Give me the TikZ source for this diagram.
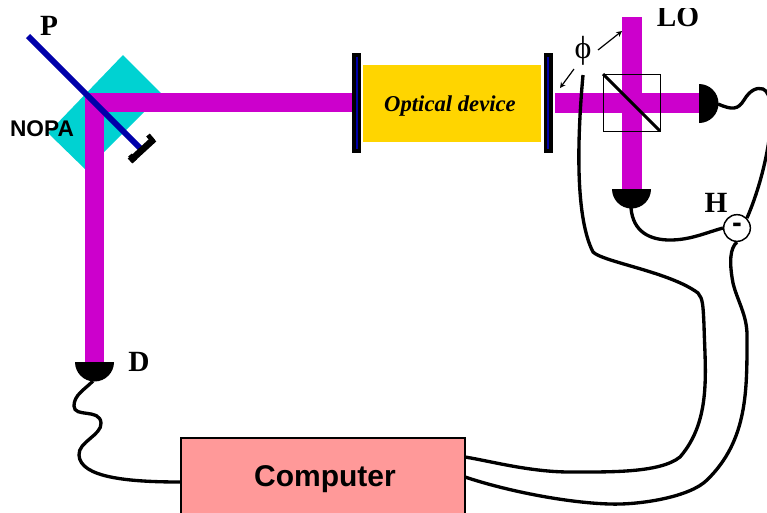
\documentclass[tikz,border=0pt]{standalone}
\usepackage{fontspec}
\setmainfont{Liberation Serif}
\setsansfont{Liberation Sans}
\usepackage{xcolor}
\usetikzlibrary{arrows}
\definecolor{faisceau}{RGB}{204,0,204}
\definecolor{turquoise}{RGB}{0,210,210}
\definecolor{jaune}{RGB}{255,213,0}
\definecolor{rose}{RGB}{255,153,153}
\definecolor{bleunuit}{RGB}{0,0,170}
\tikzset{
    beam/.style={fill=faisceau},
    wire/.style={line width=2.5pt, black},
    label/.style={font=\fontsize{22}{22}\selectfont\bfseries, inner sep=0pt},
    detector/.style={fill=black},
}

\begin{document}
\begin{tikzpicture}[x=0.75pt,y=-0.75pt]
    \clip (0,0) rectangle (767,512);
    \fill[white] (0,0) rectangle (767,512);
    % cristal
    \fill[turquoise] (123,55) -- (162,94) -- (86,170) -- (48,133) -- cycle;
    % faisceaux
    \fill[beam] (85,93) rectangle (353,112);
    \fill[beam] (85,93) rectangle (104,362);
    \fill[beam] (555,93) rectangle (700,113);
    \fill[beam] (622,17) rectangle (642,190);
    % lame et miroir
    \draw[bleunuit, line width=4.5pt] (28,36) -- (140,148);
    \draw[black, line width=5pt] (130,161) -- (154,139);
    \draw[black, line width=3.5pt] (148,135) -- (153,141);
    \draw[black, line width=3.5pt] (130,155) -- (135,161);
    % miroirs de la cavite
    \foreach \x in {356.5,548} {
        \fill[black] (\x-4.5,53) rectangle (\x+4.5,153);
        \fill[bleunuit] (\x-1,57) rectangle (\x+1,149);
    }
    \node[fill=jaune, minimum width=133.5pt, minimum height=57.75pt, inner sep=0pt, text depth=0pt,
        font=\fontsize{17}{17}\selectfont\bfseries\itshape] (device) at (452,103.5) {\hspace*{-3pt}Optical device};
    % separatrice
    \draw[black, line width=0.5pt] (603,74) rectangle (660,131);
    \draw[black, line width=2.2pt] (603,74) -- (660,131);
    % detecteurs
    \fill[detector] (75,362) arc (180:0:19.5) -- cycle;
    \fill[detector] (612,189) arc (180:0:19.5) -- cycle;
    \fill[detector] (699,84) arc (-90:90:19.5) -- cycle;
    \coordinate (detD) at (93,381);
    \coordinate (detB) at (631,208);
    \coordinate (detR) at (718,104);
    % ordinateur
    \node[draw=black, line width=1.5pt, fill=rose, minimum width=213pt, minimum height=57pt, inner sep=0pt, text depth=0pt,
        font=\fontsize{22.5}{22.5}\selectfont\sffamily\bfseries] (computer) at (323,476) {\hspace*{3pt}Computer};
    \coordinate (compD) at (181,482);
    \coordinate (compA) at (465,457);
    \coordinate (compB) at (465,477);
    \coordinate (phase) at (583,75);
    % fils
    \node[circle, draw=black, line width=1.1pt, fill=white, minimum size=20pt, inner sep=0pt, text depth=0pt,
        font=\fontsize{22}{22}\selectfont\sffamily\bfseries] (minus) at (737,228) {-};
    \draw[wire] (detD) .. controls (84,390) and (74,395) .. (74,406)
        .. controls (74,418) and (100,408) .. (101,423)
        .. controls (102,435) and (78,442) .. (79,455)
        .. controls (80,478) and (130,482) .. (compD);
    \draw[wire] (detB) .. controls (633,232) and (650,240) .. (670,240)
        .. controls (690,240) and (705,233) .. (minus.west);
    \draw[wire] (detR) .. controls (732,110) and (738,110) .. (744,100)
        .. controls (750,90) and (757,87) .. (763,89)
        .. controls (780,96) and (768,170) .. (minus.north east);
    \draw[wire] (phase) .. controls (578,130) and (574,215) .. (593,252)
        .. controls (603,262) and (670,272) .. (698,293)
        .. controls (703,299) and (703,305) .. (704,325)
        .. controls (705,370) and (712,420) .. (680,457)
        .. controls (660,473) and (610,472) .. (570,472)
        .. controls (530,472) and (490,461) .. (compA);
    \draw[wire] (minus.south) .. controls (730,248) and (729,262) .. (733,283)
        .. controls (737,300) and (747,315) .. (747,335)
        .. controls (747,390) and (748,440) .. (707,480)
        .. controls (690,497) and (640,505) .. (610,504)
        .. controls (570,503) and (510,492) .. (compB);
    % phase
    \node[inner sep=0pt, font=\fontsize{24}{24}\selectfont] (phi) at (583,51) {ϕ};
    \coordinate (arrowA) at (598,50);
    \coordinate (headA) at (622,31);
    \coordinate (arrowB) at (574,69);
    \coordinate (headB) at (560,88);
    \draw[-stealth, black, line width=0.9pt] (arrowA) -- (headA);
    \draw[-stealth, black, line width=0.9pt] (arrowB) -- (headB);
    % textes
    \node[label] (pump) at (49,26) {P};
    \node[font=\fontsize{17}{17}\selectfont\sffamily\bfseries, inner sep=0pt] (nopa) at (42,129) {NOPA};
    \node[label] (detlabel) at (139,362) {D};
    \node[label] (hlabel) at (716,203) {H};
    \begin{scope}
        \clip (640,8) rectangle (720,40);
        \node[label] (lo) at (678,17) {LO};
    \end{scope}
\end{tikzpicture}
\end{document}
